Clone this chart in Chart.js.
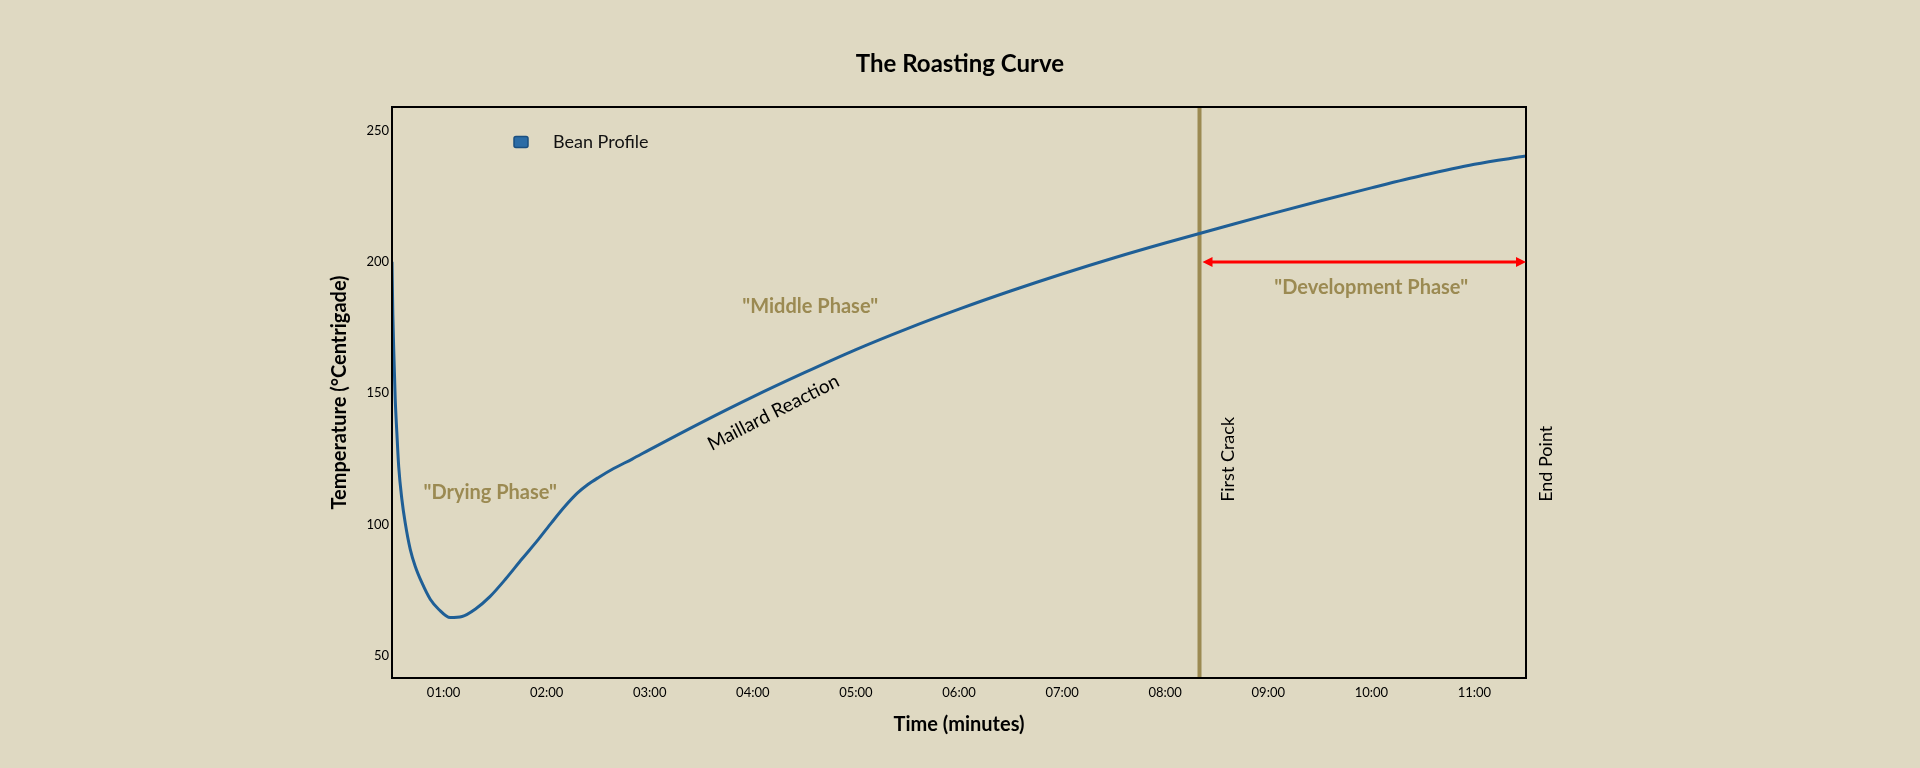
<!DOCTYPE html>
<html>
<head>
<meta charset="utf-8">
<script src="https://cdn.jsdelivr.net/npm/chart.js@4.4.1/dist/chart.umd.min.js"></script>
<style>
  html, body { margin: 0; padding: 0; background: #dfd9c2; }
  #wrap { width: 1920px; height: 768px; }
</style>
</head>
<body>
<div id="wrap"><canvas id="c" width="1920" height="768"></canvas></div>
<script>
// ---- data (time in minutes, temperature in °C) ----
const times = [0.500, 0.508, 0.518, 0.531, 0.547, 0.565, 0.596, 0.628, 0.677, 0.725, 0.790, 0.871, 0.952, 1.065, 1.180, 1.307, 1.450, 1.600, 1.760, 1.920, 2.050, 2.180, 2.300, 2.400, 2.500, 2.650, 2.830, 3.000, 3.500, 4.000, 4.500, 5.000, 5.500, 6.000, 6.500, 7.000, 7.500, 8.000, 8.500, 9.000, 9.500, 10.000, 10.500, 11.000, 11.500];
const temps = [200, 180, 165, 148, 135, 122, 109.5, 100.6, 90.5, 84.1, 77.8, 71.5, 67.7, 64.5, 64.9, 67.7, 72.5, 79.1, 86.8, 94.3, 100.8, 107, 112, 115.2, 117.8, 121.3, 124.9, 128.5, 138.8, 148.6, 157.8, 166.6, 174.6, 182.0, 188.9, 195.4, 201.5, 207.2, 212.6, 218, 223.2, 228.2, 233, 237.2, 240.3];
const xTickValues = [1, 2, 3, 4, 5, 6, 7, 8, 9, 10, 11];
const xTickLabels = ['01:00', '02:00', '03:00', '04:00', '05:00', '06:00', '07:00', '08:00', '09:00', '10:00', '11:00'];
const yTickValues = [50, 100, 150, 200, 250];
const seriesLabel = 'Bean Profile';
const chartTitle = 'The Roasting Curve';
const firstCrackTime = 8.333;
const endTime = 11.5;
const developmentTemp = 200;
const phaseLabels = ['"Drying Phase"', '"Middle Phase"', '"Development Phase"'];
const phaseLabelTimes = [1.453, 4.557, 9.998];
const phaseLabelTemps = [112.3, 183, 190.2];
const maillardLabel = 'Maillard Reaction';
const maillardTime = 4.20, maillardTemp = 142.6;
const firstCrackLabel = 'First Crack';
const endPointLabel = 'End Point';
const markerLabelTemp = 108.6;

const FONT = 'Lato, "Open Sans", sans-serif';
const OLIVE = '#9b8a52';
const BLUE = '#1f5f96';

const points = times.map((t, i) => ({ x: t, y: temps[i] }));

const decor = {
  id: 'decor',
  beforeDatasetsDraw(chart) {
    const { ctx, chartArea: a, scales: { x } } = chart;
    const fx = x.getPixelForValue(firstCrackTime);
    ctx.save();
    ctx.strokeStyle = OLIVE;
    ctx.lineWidth = 4;
    ctx.beginPath();
    ctx.moveTo(fx, a.top);
    ctx.lineTo(fx, a.bottom);
    ctx.stroke();
    ctx.restore();
  },
  afterDraw(chart) {
    const { ctx, chartArea: a, scales: { x, y } } = chart;
    ctx.save();
    // title, centred on the page
    ctx.fillStyle = '#000';
    ctx.font = 'bold 24px ' + FONT;
    ctx.textAlign = 'center';
    ctx.textBaseline = 'middle';
    ctx.fillText(chartTitle, chart.width / 2, 64);

    // plot frame
    ctx.strokeStyle = '#000';
    ctx.lineWidth = 2;
    ctx.strokeRect(a.left, a.top, a.right - a.left, a.bottom - a.top);

    // development arrow
    const x1 = x.getPixelForValue(firstCrackTime) + 3;
    const x2 = x.getPixelForValue(endTime);
    const ay = y.getPixelForValue(developmentTemp);
    ctx.strokeStyle = '#ff0000';
    ctx.fillStyle = '#ff0000';
    ctx.lineWidth = 3;
    ctx.beginPath();
    ctx.moveTo(x1 + 8, ay);
    ctx.lineTo(x2 - 8, ay);
    ctx.stroke();
    ctx.beginPath();
    ctx.moveTo(x1, ay); ctx.lineTo(x1 + 10, ay - 5); ctx.lineTo(x1 + 10, ay + 5); ctx.closePath(); ctx.fill();
    ctx.beginPath();
    ctx.moveTo(x2, ay); ctx.lineTo(x2 - 10, ay - 5); ctx.lineTo(x2 - 10, ay + 5); ctx.closePath(); ctx.fill();

    // phase labels
    ctx.fillStyle = OLIVE;
    ctx.font = 'bold 20px ' + FONT;
    ctx.textAlign = 'center';
    ctx.textBaseline = 'middle';
    phaseLabels.forEach((s, i) => {
      ctx.fillText(s, x.getPixelForValue(phaseLabelTimes[i]), y.getPixelForValue(phaseLabelTemps[i]));
    });

    // Maillard reaction (rotated)
    ctx.fillStyle = '#000';
    ctx.font = '19px ' + FONT;
    ctx.save();
    ctx.translate(x.getPixelForValue(maillardTime), y.getPixelForValue(maillardTemp));
    ctx.rotate(-27 * Math.PI / 180);
    ctx.fillText(maillardLabel, 0, 0);
    ctx.restore();

    // vertical marker labels
    ctx.font = '18px ' + FONT;
    const my = y.getPixelForValue(markerLabelTemp);
    [[firstCrackLabel, x.getPixelForValue(firstCrackTime) + 29], [endPointLabel, x.getPixelForValue(endTime) + 20]].forEach(([s, px]) => {
      ctx.save();
      ctx.translate(px, my);
      ctx.rotate(-Math.PI / 2);
      ctx.textAlign = 'left';
      ctx.fillText(s, 0, 0);
      ctx.restore();
    });

    // legend
    const lx = a.left + 122, ly = a.top + 35;
    ctx.fillStyle = '#2b6ca6';
    ctx.strokeStyle = '#1a4f80';
    ctx.lineWidth = 1.5;
    ctx.beginPath();
    ctx.roundRect(lx, ly - 5.5, 14, 11, 2);
    ctx.fill();
    ctx.stroke();
    ctx.fillStyle = '#111';
    ctx.font = '18px ' + FONT;
    ctx.textAlign = 'left';
    ctx.fillText(chart.data.datasets[0].label, lx + 39, ly);
    ctx.restore();
  }
};

new Chart(document.getElementById('c'), {
  type: 'line',
  data: {
    datasets: [{
      label: seriesLabel,
      data: points,
      borderColor: BLUE,
      backgroundColor: BLUE,
      borderWidth: 3,
      pointRadius: 0,
      cubicInterpolationMode: 'monotone',
      fill: false
    }]
  },
  options: {
    responsive: false,
    animation: false,
    layout: { padding: { left: 320, right: 394, top: 107, bottom: 0 } },
    plugins: {
      legend: { display: false },
      tooltip: { enabled: false },
      title: { display: false }
    },
    scales: {
      x: {
        type: 'linear',
        min: 0.5,
        max: 11.5,
        afterBuildTicks: s => { s.ticks = xTickValues.map(v => ({ value: v })); },
        afterFit: s => { s.height = 90; },
        grid: { display: false, drawTicks: false },
        border: { display: false },
        ticks: {
          autoSkip: false, maxRotation: 0, padding: 7, color: '#000',
          font: { family: FONT, size: 13 },
          callback: (v, i) => xTickLabels[i]
        },
        title: {
          display: true, text: 'Time (minutes)', color: '#000',
          font: { family: FONT, size: 20, weight: 'bold', lineHeight: 1.2 },
          padding: { top: 0, bottom: 31 }
        }
      },
      y: {
        type: 'linear',
        min: 41.5,
        max: 259,
        afterBuildTicks: s => { s.ticks = yTickValues.map(v => ({ value: v })); },
        afterFit: s => { s.width = 72; },
        grid: { display: false, drawTicks: false },
        border: { display: false },
        ticks: { padding: 3, color: '#000', font: { family: FONT, size: 13 } },
        title: {
          display: true, text: 'Temperature (°Centrigade)', color: '#000',
          font: { family: FONT, size: 20, weight: 'bold', lineHeight: 1.2 },
          padding: { top: 8, bottom: 0 }
        }
      }
    }
  },
  plugins: [decor]
});
</script>
</body>
</html>
